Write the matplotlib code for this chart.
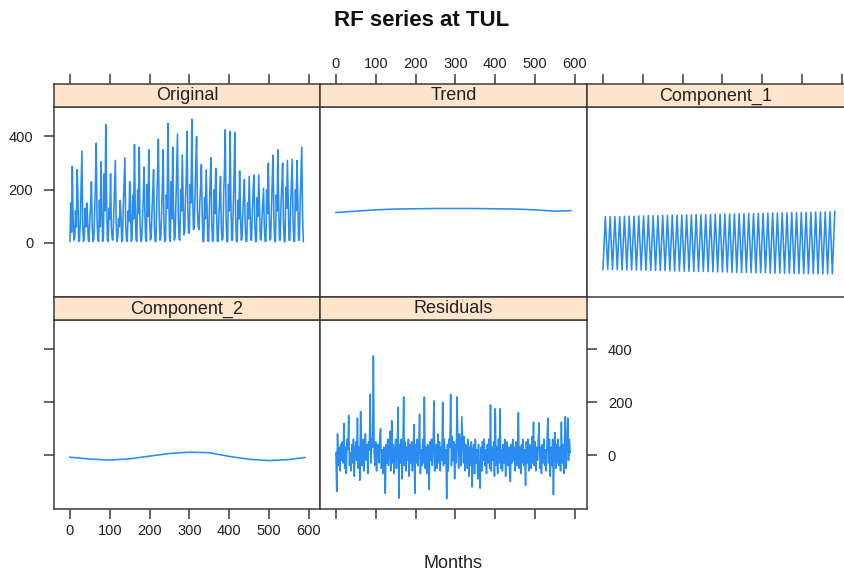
#%%imports
import matplotlib
matplotlib.use("Agg")
import matplotlib.pyplot as plt
import numpy as np

plt.rcParams["font.family"] = ["Liberation Sans", "DejaVu Sans"]

#%%data
#original series, bi-monthly samples, one row per year (months +0,+2,...,+10)
original_rows = [
    [5, 150, 40, 288, 90, 10], [15, 120, 60, 275, 180, 5], [10, 80, 210, 345, 70, 5],
    [20, 130, 60, 150, 100, 10], [5, 90, 140, 230, 60, 5], [15, 120, 220, 375, 90, 10],
    [5, 160, 60, 305, 140, 5], [20, 260, 120, 445, 180, 10], [5, 130, 90, 260, 60, 15],
    [10, 110, 210, 310, 80, 5], [20, 90, 60, 160, 110, 5], [10, 140, 230, 320, 70, 10],
    [5, 120, 80, 230, 160, 5], [15, 180, 90, 370, 130, 10], [5, 200, 110, 360, 70, 5],
    [10, 90, 160, 285, 120, 15], [5, 220, 100, 350, 90, 10], [20, 120, 190, 275, 60, 5],
    [5, 160, 260, 390, 110, 10], [15, 110, 210, 350, 80, 5], [10, 180, 130, 450, 200, 20],
    [5, 230, 90, 360, 140, 10], [20, 150, 290, 410, 100, 15], [10, 200, 120, 330, 180, 30],
    [40, 160, 250, 420, 120, 35], [45, 220, 150, 465, 190, 50], [55, 180, 300, 400, 130, 60],
    [50, 150, 210, 295, 110, 5], [5, 170, 90, 275, 150, 10], [5, 120, 230, 320, 80, 5],
    [10, 200, 110, 280, 130, 5], [5, 100, 170, 250, 60, 10], [15, 180, 280, 425, 90, 5],
    [5, 220, 120, 420, 160, 10], [10, 130, 250, 415, 100, 5], [5, 160, 90, 270, 120, 10],
    [15, 110, 180, 238, 70, 5], [5, 150, 90, 250, 130, 10], [10, 120, 200, 255, 80, 5],
    [5, 170, 100, 255, 140, 15], [10, 90, 150, 205, 60, 5], [5, 200, 110, 300, 120, 10],
    [15, 130, 240, 330, 90, 5], [5, 180, 120, 350, 150, 10], [10, 150, 220, 300, 80, 5],
    [5, 210, 130, 310, 160, 10], [10, 140, 230, 315, 90, 5], [5, 200, 120, 310, 170, 10],
    [10, 150, 260, 360, 100, 5],
]

#trend and component_2, every 50 months
smooth_months = [0, 50, 100, 150, 200, 250, 300, 350, 400, 450, 500, 550, 590]
trend = [114, 119, 124, 127, 128, 129, 129, 129, 128, 127, 124, 119, 121]
component_2 = [-8, -15, -19, -14, -4, 6, 11, 9, -5, -16, -21, -17, -9]

#component_1, yearly troughs and peaks (half a year apart)
c1_trough = [-100, -100, -101, -101, -102, -102, -102, -103, -103, -104, -104, -104, -105,
             -105, -106, -106, -106, -107, -107, -108, -108, -108, -109, -109, -110, -110,
             -110, -111, -111, -112, -112, -112, -113, -113, -113, -114, -114, -114, -115,
             -115, -115, -116, -116, -116, -116, -117, -117, -117, -117]
c1_peak = [98, 98, 99, 99, 100, 100, 100, 101, 101, 102, 102, 102, 103, 103, 104, 104,
           104, 105, 105, 106, 106, 106, 107, 107, 108, 108, 108, 109, 109, 110, 110, 110,
           111, 111, 112, 112, 112, 113, 113, 114, 114, 114, 115, 115, 116, 116, 116, 117, 118]

#residuals, bi-monthly samples, 20 months per row
residual_rows = [
    [10, -138, 80, -40, 30, -60, 40, -20, 50, -30],
    [120, -50, 30, -70, 60, 20, 150, -40, 10, -60],
    [40, -30, 60, -80, 20, 50, -20, 140, -50, 30],
    [-95, 165, 10, -40, 60, -60, 30, 80, -20, 40],
    [-70, 50, 20, 230, -30, 60, 30, 375, 10, -40],
    [50, -60, 20, 40, -30, 60, 100, -50, 20, -70],
    [30, -20, -145, 40, -30, 60, -40, 20, 90, -60],
    [130, -30, 40, -70, 20, 60, -50, 30, 180, -163],
    [40, -30, 60, -90, 20, 220, -40, 50, -60, 30],
    [-20, 60, -80, 40, -30, 50, -60, 20, 115, -145],
    [40, -30, 60, -40, 30, 155, -70, 20, -40, 60],
    [-30, 220, -50, 30, -70, 40, 20, -130, 50, -20],
    [60, -40, 30, 205, -60, 20, 40, -50, 80, -30],
    [50, -60, 30, -20, 200, -40, 60, -30, 20, -165],
    [40, -60, 60, 30, 230, -40, 70, -20, 50, -90],
    [40, -30, 220, 60, -50, 80, 30, -40, 145, 60],
    [-30, 70, -60, 40, 20, -50, 60, -80, 30, -40],
    [50, -120, 20, 40, -70, 60, -30, 20, -90, 40],
    [-50, -125, 30, -60, 50, -20, 60, -40, 20, -70],
    [40, -30, 60, -50, 190, -60, 30, -20, 50, -80],
    [175, -40, 30, -70, 60, -30, 175, -50, 20, -60],
    [40, -30, 60, -80, 20, 50, -40, 30, -60, -100],
    [40, -30, 60, -20, 30, -60, 50, -40, 20, 160],
    [-50, 30, -70, 40, -30, 60, -40, 20, -115, 50],
    [-30, 60, -60, 40, 20, -50, 70, -30, 125, -40],
    [50, -60, 30, -20, 60, 122, -50, 30, -70, 40],
    [-30, 60, -40, 20, -60, 50, 140, -30, 60, -80],
    [30, -40, 60, -150, 20, 85, -50, 40, -30, 60],
    [-40, 30, -60, 125, -30, 40, -70, 60, 145, -50],
    [30, 140, -20, 60, 10],
]

panel_names = ["Original", "Trend", "Component_1", "Component_2", "Residuals"]
x_ticks = [0, 100, 200, 300, 400, 500, 600]
y_ticks = [0, 200, 400]

#%%definitions
W, H = 845, 574
LINE_C = "#2a8cf0"
STRIP_C = "#ffe5cc"
EDGE_C = "#3a3a3a"
TXT_C = "#222222"

def fig_rect(x0, y0, x1, y1):
    """pixel box (top-left origin) -> figure fraction rect"""
    return [x0/W, 1 - y1/H, (x1 - x0)/W, (y1 - y0)/H]

def series():
    orig = np.array(original_rows, dtype=float).ravel()
    m_orig = 2*np.arange(len(orig))
    c1 = np.ravel(np.column_stack([c1_trough, c1_peak]))
    m_c1 = 6*np.arange(len(c1))
    res = np.concatenate([np.array(r, dtype=float) for r in residual_rows])
    m_res = 2*np.arange(len(res))
    return {
        "Original": (m_orig, orig),
        "Trend": (smooth_months, trend),
        "Component_1": (m_c1, c1),
        "Component_2": (smooth_months, component_2),
        "Residuals": (m_res, res),
    }

def style_axes(ax):
    for s in ax.spines.values():
        s.set_color(EDGE_C)
        s.set_linewidth(1.1)
    ax.tick_params(direction="out", length=7, width=1.1, color=EDGE_C,
                   labelsize=10.5, labelcolor=TXT_C)
    ax.tick_params(axis="x", pad=4)
    ax.tick_params(axis="y", pad=8)

def make_panel(fig, name, box, strip_box, xlim, data, left=None, right=None, top=None, bottom=None, hide_right=False):
    ax = fig.add_axes(fig_rect(*box))
    sax = fig.add_axes(fig_rect(*strip_box), sharex=ax)
    style_axes(ax)
    style_axes(sax)

    ax.plot(data[0], data[1], color=LINE_C, lw=1.15)
    ax.set_xlim(*xlim)
    ax.set_ylim(-204, 511)

    #strip
    sax.set_facecolor(STRIP_C)
    sax.set_yticks([])
    sax.text(0.5, 0.48, name, transform=sax.transAxes, ha="center", va="center",
             fontsize=13, color=TXT_C)

    #x ticks: top ones live on the strip
    ax.set_xticks(x_ticks)
    ax.tick_params(axis="x", top=False, labeltop=False,
                   bottom=bottom is not None, labelbottom=bottom == "labels")
    sax.tick_params(axis="x", bottom=False, labelbottom=False,
                    top=top is not None, labeltop=top == "labels", pad=2)

    #y ticks
    ax.set_yticks(y_ticks)
    ax.tick_params(axis="y", left=left is not None, labelleft=left == "labels",
                   right=right is not None, labelright=right == "labels")

    if hide_right:
        ax.spines["right"].set_visible(False)
        sax.spines["right"].set_visible(False)
    return ax

#%%main
def main():
    fig = plt.figure(figsize=(W/100, H/100), dpi=100)
    data = series()

    cols = [(54, 320), (320, 587), (587, 845)]
    rows = [(84, 107, 297), (297, 320, 509)]
    px_per_month = 239/600
    xlims = [(-40, -40 + (c1 - c0)/px_per_month) for (c0, c1) in cols]

    specs = [
        ("Original",    0, 0, dict(left="labels", top="ticks")),
        ("Trend",       0, 1, dict(top="labels")),
        ("Component_1", 0, 2, dict(top="ticks", hide_right=True)),
        ("Component_2", 1, 0, dict(left="ticks", bottom="labels")),
        ("Residuals",   1, 1, dict(bottom="ticks", right="labels")),
    ]
    for (name, r, c, kw) in specs:
        s0, s1, p1 = rows[r]
        c0, c1 = cols[c]
        make_panel(fig, name, (c0, s1, c1, p1), (c0, s0, c1, s1), xlims[c], data[name], **kw)

    fig.text(422/W, 1 - 20/H, "RF series at TUL", ha="center", va="center",
             fontsize=16, fontweight="bold", color="#111111")
    fig.text(453/W, 1 - 563/H, "Months", ha="center", va="center",
             fontsize=13, color=TXT_C)

    fig.savefig("out.png", dpi=100)
    return

if __name__ == "__main__":
    main()
